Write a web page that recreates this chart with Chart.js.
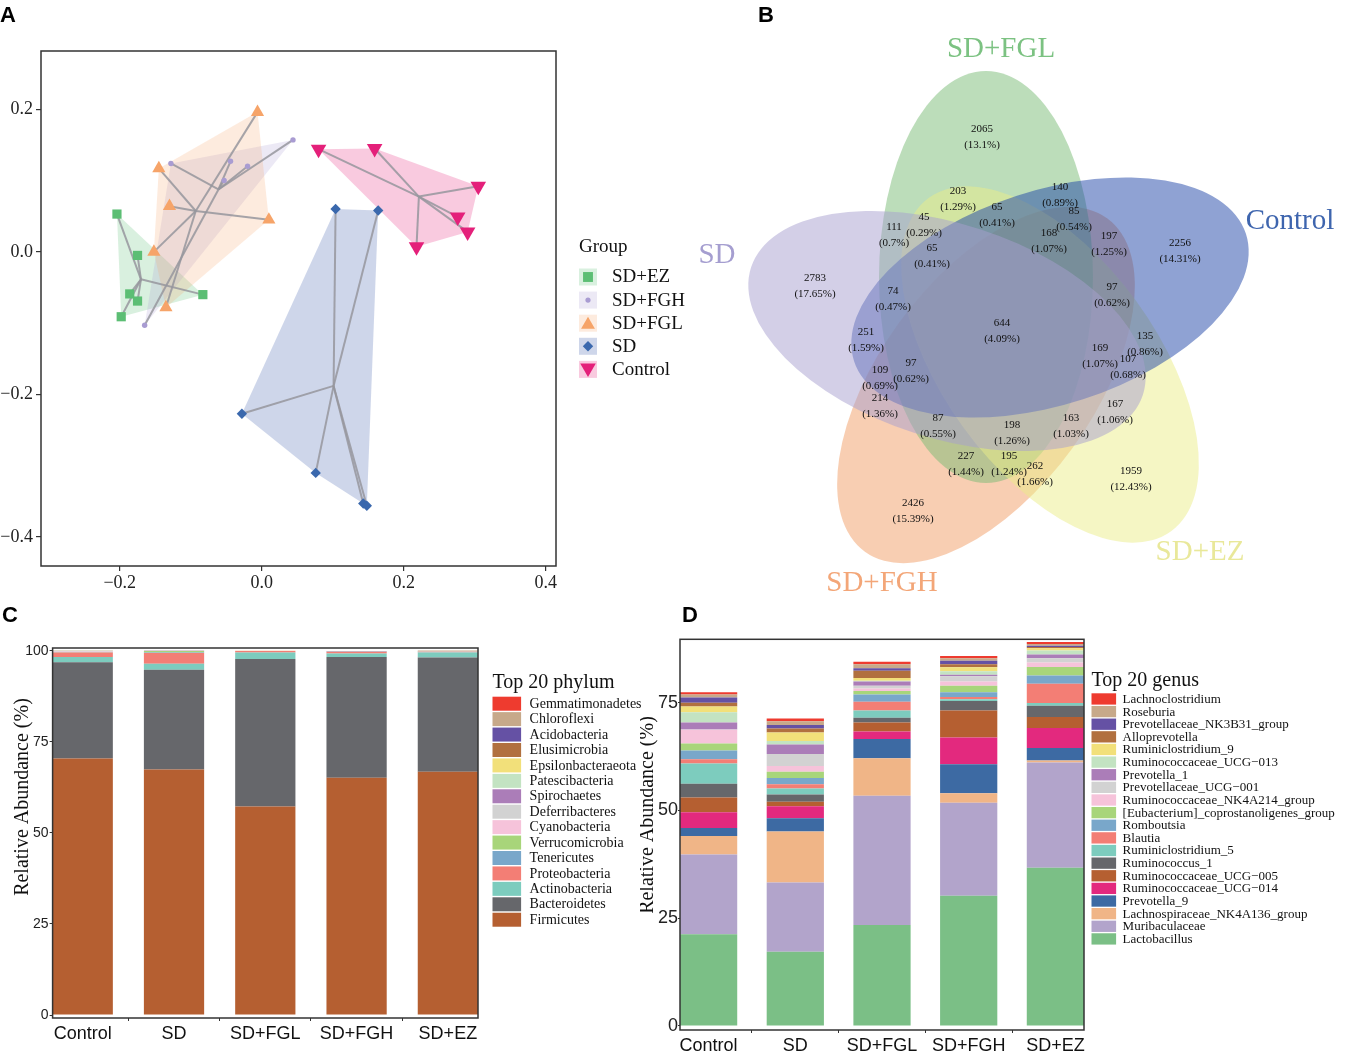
<!DOCTYPE html>
<html><head><meta charset="utf-8">
<script src="https://cdn.jsdelivr.net/npm/chart.js"></script>
<style>
html,body{margin:0;padding:0;background:#fff;}
#wrap{position:relative;width:1358px;height:1052px;overflow:hidden;background:#fff;}
canvas{position:absolute;}
.pl{position:absolute;font:bold 22px "Liberation Sans",Arial,sans-serif;line-height:1;color:#000;}
</style></head><body>
<div id="wrap">
<canvas id="cA" style="left:0;top:0;width:700px;height:610px"></canvas>
<canvas id="cB" style="left:690px;top:0;width:668px;height:610px"></canvas>
<canvas id="cC" style="left:0;top:625px;width:680px;height:427px"></canvas>
<canvas id="cD" style="left:640px;top:625px;width:718px;height:427px"></canvas>
<div class="pl" style="left:0px;top:4px">A</div>
<div class="pl" style="left:758px;top:4px">B</div>
<div class="pl" style="left:2px;top:604px">C</div>
<div class="pl" style="left:682px;top:604px">D</div>
</div>
<script>
// ================= DATA =================
// Panel A: PCoA coordinates per group [x, y]
const groupNames = ['SD+EZ','SD+FGH','SD+FGL','SD','Control'];
const ptsSDEZ   = [[-0.204,0.053],[-0.175,-0.005],[-0.186,-0.059],[-0.175,-0.069],[-0.198,-0.091],[-0.083,-0.060]];
const ptsSDFGH  = [[-0.128,0.124],[-0.044,0.127],[-0.020,0.120],[-0.053,0.100],[0.044,0.157],[-0.165,-0.103]];
const ptsSDFGL  = [[-0.006,0.196],[-0.145,0.117],[-0.130,0.064],[0.010,0.045],[-0.152,0.000],[-0.135,-0.078]];
const ptsSD     = [[0.104,0.060],[0.164,0.058],[-0.028,-0.227],[0.076,-0.310],[0.143,-0.353],[0.148,-0.356]];
const ptsControl= [[0.080,0.144],[0.159,0.145],[0.305,0.092],[0.276,0.049],[0.290,0.028],[0.218,0.007]];
const pcoaTicksX = [-0.2, 0, 0.2, 0.4];
const pcoaTicksY = [-0.4, -0.2, 0, 0.2];

// Panel B: Venn
const vennSets = ['SD','SD+FGL','Control','SD+EZ','SD+FGH'];
const vennCounts = [2065,203,140,65,45,111,85,168,197,65,2256,2783,74,97,644,251,135,169,107,97,109,214,167,87,163,198,227,195,262,1959,2426];
const vennPercents = ['13.1%','1.29%','0.89%','0.41%','0.29%','0.7%','0.54%','1.07%','1.25%','0.41%','14.31%','17.65%','0.47%','0.62%','4.09%','1.59%','0.86%','1.07%','0.68%','0.62%','0.69%','1.36%','1.06%','0.55%','1.03%','1.26%','1.44%','1.24%','1.66%','12.43%','15.39%'];

// Panel C: phylum (stack order bottom -> top)
const barCategories = ['Control','SD','SD+FGL','SD+FGH','SD+EZ'];
const phylumNames = ['Firmicutes','Bacteroidetes','Actinobacteria','Proteobacteria','Tenericutes','Verrucomicrobia','Cyanobacteria','Deferribacteres','Spirochaetes','Patescibacteria','Epsilonbacteraeota','Elusimicrobia','Acidobacteria','Chloroflexi','Gemmatimonadetes'];
const phylumValues = [
  [70.4, 67.4, 57.2, 65.1, 66.8],
  [26.4, 27.4, 40.5, 33.2, 31.3],
  [1.5, 1.6, 1.8, 0.9, 1.4],
  [1.2, 3.0, 0.4, 0.5, 0.1],
  [0.10, 0.10, 0.03, 0.05, 0.05],
  [0.05, 0.40, 0.02, 0.02, 0.02],
  [0.08, 0.03, 0.02, 0.02, 0.04],
  [0.12, 0.02, 0.02, 0.03, 0.04],
  [0.10, 0.02, 0.01, 0.02, 0.03],
  [0.04, 0.01, 0.01, 0.02, 0.02],
  [0.02, 0.01, 0.01, 0.01, 0.01],
  [0.02, 0.01, 0.01, 0.01, 0.08],
  [0.01, 0.01, 0.01, 0.01, 0.01],
  [0.01, 0.01, 0.01, 0.01, 0.12],
  [0.01, 0.01, 0.01, 0.01, 0.01]
];
const abundanceTicksC = [0, 25, 50, 75, 100];

// Panel D: genus (stack order bottom -> top)
const genusNames = ['Lactobacillus','Muribaculaceae','Lachnospiraceae_NK4A136_group','Prevotella_9','Ruminococcaceae_UCG\u2212014','Ruminococcaceae_UCG\u2212005','Ruminococcus_1','Ruminiclostridium_5','Blautia','Romboutsia','[Eubacterium]_coprostanoligenes_group','Ruminococcaceae_NK4A214_group','Prevotellaceae_UCG\u2212001','Prevotella_1','Ruminococcaceae_UCG\u2212013','Ruminiclostridium_9','Alloprevotella','Prevotellaceae_NK3B31_group','Roseburia','Lachnoclostridium'];
const genusValues = [
  [21.3, 17.2, 23.4, 30.2, 36.7],
  [18.5, 16.1, 30.0, 21.6, 24.4],
  [4.3, 11.8, 8.7, 2.2, 0.5],
  [1.8, 3.1, 4.5, 6.7, 2.9],
  [3.7, 2.8, 1.7, 6.2, 4.6],
  [3.4, 1.0, 2.1, 6.3, 2.6],
  [3.2, 1.7, 1.1, 2.2, 2.6],
  [4.7, 1.4, 1.7, 0.4, 0.6],
  [1.0, 1.0, 2.0, 0.5, 4.5],
  [2.0, 1.4, 1.7, 1.1, 1.9],
  [1.6, 1.5, 0.8, 1.5, 2.0],
  [3.2, 1.3, 0.6, 1.0, 1.0],
  [0.1, 2.8, 0.6, 1.2, 1.0],
  [1.6, 2.2, 1.0, 0.4, 0.9],
  [2.4, 0.8, 0.2, 0.8, 0.9],
  [1.3, 2.0, 0.6, 0.9, 0.5],
  [0.9, 0.9, 1.7, 0.7, 0.3],
  [1.2, 0.8, 0.6, 0.8, 0.3],
  [0.7, 0.9, 0.9, 0.6, 0.4],
  [0.5, 0.6, 0.6, 0.5, 0.5]
];
const abundanceTicksD = [0, 25, 50, 75];

// ================= STYLE / LAYOUT =================
const SERIF = '"Liberation Serif","Times New Roman",serif';
const SANS = '"Liberation Sans",Arial,sans-serif';
Chart.defaults.font.family = SANS;
Chart.defaults.color = '#222';
Chart.defaults.animation = false;

const groupStyle = [
  {color:'#5CBE74', fill:'rgba(92,190,116,0.23)', ps:'rect', r:6.5, rot:0},
  {color:'#A99CD2', fill:'rgba(169,156,210,0.22)', ps:'circle', r:2.7, rot:0},
  {color:'#F6A469', fill:'rgba(246,164,105,0.22)', ps:'triangle', r:7.6, rot:0},
  {color:'#3A68AD', fill:'rgba(58,90,170,0.25)', ps:'rectRot', r:5.2, rot:0},
  {color:'#E4207A', fill:'rgba(228,32,122,0.24)', ps:'triangle', r:9, rot:180}
];
const phylumColors = ['#B55F31','#66676B','#7DCCBE','#F37E75','#79A7CA','#A8D57A','#F6C3DA','#D2D2D2','#AB7DB8','#C3E3C2','#F2E07A','#B1703F','#6551A4','#C7A98A','#EE3B2F'];
const genusColors = ['#7BBF86','#B2A4CB','#F0B587','#3D6AA3','#E3297E','#B55F31','#66676B','#7DCCBE','#F37E75','#79A7CA','#A8D57A','#F6C3DA','#D2D2D2','#AB7DB8','#C3E3C2','#F2E07A','#B1703F','#6551A4','#C7A98A','#EE3B2F'];

const vennLabelX = [982,958,1060,997,924,894,1074,1049,1109,932,1180,815,893,1112,1002,866,1145,1100,1128,911,880,880,1115,938,1071,1012,966,1009,1035,1131,913];
const vennLabelY = [129,191,187,207,217,227,211,233,236,248,243,278,291,287,323,332,336,348,359,363,370,398,404,418,418,425,456,456,466,471,503];
const vennEllipse = { // centre x, centre y, tilt (deg), semi-axes
  cx:[947,986,1050,1050,986], cy:[331,277,297.5,364.5,385], tilt:[18,90,-18,54,126], a:206, b:107
};
const vennDrawOrder = [4,1,3,2,0];
const vennFill = ['rgba(167,159,207,0.5)','rgba(121,187,117,0.5)','rgba(31,69,167,0.5)','rgba(235,237,137,0.5)','rgba(241,157,101,0.5)'];
const vennTextColor = ['#A59ED0','#7CC282','#3E65AE','#E9E89A','#F3A678'];
const vennSetLabelPos = [[717,255],[1001,49],[1290,221],[1200,552],[882,583]];

// ================= HELPERS =================
function hull(points){
  const p = points.slice().sort((a,b)=>a[0]-b[0]||a[1]-b[1]);
  const cross=(o,a,b)=>(a[0]-o[0])*(b[1]-o[1])-(a[1]-o[1])*(b[0]-o[0]);
  const lo=[],up=[];
  for(const q of p){while(lo.length>=2&&cross(lo[lo.length-2],lo[lo.length-1],q)<=0)lo.pop();lo.push(q);}
  for(let i=p.length-1;i>=0;i--){const q=p[i];while(up.length>=2&&cross(up[up.length-2],up[up.length-1],q)<=0)up.pop();up.push(q);}
  up.pop();lo.pop();return lo.concat(up);
}
function drawSym(ctx, st, x, y, r){
  ctx.beginPath();
  if(st.ps==='rect'){const s=r*Math.SQRT1_2;ctx.rect(x-s,y-s,2*s,2*s);}
  else if(st.ps==='circle'){ctx.arc(x,y,r,0,Math.PI*2);}
  else if(st.ps==='rectRot'){ctx.moveTo(x,y-r);ctx.lineTo(x+r,y);ctx.lineTo(x,y+r);ctx.lineTo(x-r,y);ctx.closePath();}
  else {
    let rad = st.rot*Math.PI/180;
    for(let k=0;k<3;k++){const xx=x+Math.sin(rad)*r, yy=y-Math.cos(rad)*r; k?ctx.lineTo(xx,yy):ctx.moveTo(xx,yy); rad+=2*Math.PI/3;}
    ctx.closePath();
  }
  ctx.fillStyle=st.color; ctx.fill();
}
const boxPlugin = {id:'box', afterDraw(chart){const a=chart.chartArea,c=chart.ctx;c.save();c.strokeStyle='#333';c.lineWidth=1.5;c.strokeRect(a.left,a.top,a.right-a.left,a.bottom-a.top);c.restore();}};
function yTitlePlugin(text, x, y, size){
  return {id:'ytitle', afterDraw(chart){const c=chart.ctx;c.save();c.translate(x,y);c.rotate(-Math.PI/2);c.font=size+'px '+SERIF;c.fillStyle='#111';c.textAlign='center';c.textBaseline='middle';c.fillText(text,0,0);c.restore();}};
}
function legendPlugin(cfg){
  return {id:'lg', afterDraw(chart){
    const c=chart.ctx;c.save();c.textAlign='left';c.textBaseline='middle';
    c.fillStyle='#111';c.font=cfg.titleSize+'px '+SERIF;c.fillText(cfg.title,cfg.x,cfg.titleY);
    c.font=cfg.size+'px '+SERIF;
    cfg.names.forEach((n,i)=>{const y=cfg.y0+i*cfg.step;c.fillStyle=cfg.colors[i];c.fillRect(cfg.x,y,cfg.bw,cfg.bh);c.fillStyle='#111';c.fillText(n,cfg.tx,y+cfg.bh/2+0.5);});
    c.restore();
  }};
}
const fmtA = v => (Math.abs(v)<1e-9 ? '0.0' : v.toFixed(1).replace('-','\u2212'));

// ================= PANEL A =================
const groupPts = [ptsSDEZ, ptsSDFGH, ptsSDFGL, ptsSD, ptsControl];
const hullPlugin = {id:'hulls', beforeDatasetsDraw(chart){
  const c=chart.ctx, xs=chart.scales.x, ys=chart.scales.y;
  c.save();
  groupPts.forEach((pts,g)=>{
    const h=hull(pts);c.beginPath();
    h.forEach((p,i)=>{const X=xs.getPixelForValue(p[0]),Y=ys.getPixelForValue(p[1]);i?c.lineTo(X,Y):c.moveTo(X,Y);});
    c.closePath();c.fillStyle=groupStyle[g].fill;c.fill();
  });
  c.strokeStyle='rgba(150,150,158,0.85)';c.lineWidth=2;
  groupPts.forEach(pts=>{
    const mx=pts.reduce((s,p)=>s+p[0],0)/pts.length, my=pts.reduce((s,p)=>s+p[1],0)/pts.length;
    const X0=xs.getPixelForValue(mx),Y0=ys.getPixelForValue(my);
    pts.forEach(p=>{c.beginPath();c.moveTo(X0,Y0);c.lineTo(xs.getPixelForValue(p[0]),ys.getPixelForValue(p[1]));c.stroke();});
  });
  c.restore();
}};
const groupLegendPlugin = {id:'glg', afterDraw(chart){
  const c=chart.ctx;c.save();c.textAlign='left';c.textBaseline='middle';c.fillStyle='#111';
  c.font='19px '+SERIF;c.fillText('Group',579,247);
  groupNames.forEach((n,i)=>{
    const cy=277+i*23.1, st=groupStyle[i];
    c.fillStyle=st.fill;c.fillRect(579,cy-8.5,18,17);
    const r = st.ps==='circle'?2.6:(st.ps==='rect'?7:(st.ps==='rectRot'?5.2:(st.rot?9:8)));
    drawSym(c,st,588,cy+(st.ps==='triangle'?(st.rot?-1.5:1.5):0),r);
    c.fillStyle='#111';c.font='19px '+SERIF;c.fillText(n,612,cy+0.5);
  });
  c.restore();
}};
new Chart(document.getElementById('cA'),{
  type:'scatter',
  data:{datasets:groupPts.map((pts,g)=>({
    label:groupNames[g], data:pts.map(p=>({x:p[0],y:p[1]})),
    pointStyle:groupStyle[g].ps, pointRadius:groupStyle[g].r, pointRotation:groupStyle[g].rot,
    backgroundColor:groupStyle[g].color, borderWidth:0, pointHoverRadius:groupStyle[g].r
  }))},
  options:{responsive:false, events:[], layout:{padding:{left:0,top:51,right:144,bottom:0}},
    plugins:{legend:{display:false},tooltip:{enabled:false}},
    scales:{
      x:{type:'linear',min:-0.311,max:0.4145,afterFit(s){s.height=44;},
        afterBuildTicks(s){s.ticks=pcoaTicksX.map(v=>({value:v}));},
        grid:{drawOnChartArea:false,tickLength:5,color:'#333',lineWidth:1.2},border:{display:false},
        ticks:{callback:fmtA,font:{family:SERIF,size:18},color:'#222',padding:1,maxRotation:0}},
      y:{type:'linear',min:-0.4406,max:0.2817,afterFit(s){s.width=41;},
        afterBuildTicks(s){s.ticks=pcoaTicksY.map(v=>({value:v}));},
        grid:{drawOnChartArea:false,tickLength:5,color:'#333',lineWidth:1.2},border:{display:false},
        ticks:{callback:fmtA,font:{family:SERIF,size:18},color:'#222',padding:3}}
    }},
  plugins:[hullPlugin, boxPlugin, groupLegendPlugin]
});

// ================= PANEL B =================
const vennPlugin = {id:'venn',
  beforeDatasetsDraw(chart){
    const c=chart.ctx,xs=chart.scales.x,ys=chart.scales.y;c.save();
    vennDrawOrder.forEach(i=>{
      const X=xs.getPixelForValue(vennEllipse.cx[i]),Y=ys.getPixelForValue(vennEllipse.cy[i]);
      const ra=Math.abs(xs.getPixelForValue(vennEllipse.cx[i]+vennEllipse.a)-X), rb=Math.abs(xs.getPixelForValue(vennEllipse.cx[i]+vennEllipse.b)-X);
      c.beginPath();c.ellipse(X,Y,ra,rb,vennEllipse.tilt[i]*Math.PI/180,0,Math.PI*2);c.fillStyle=vennFill[i];c.fill();
    });
    c.restore();
  },
  afterDatasetsDraw(chart){
    const c=chart.ctx,xs=chart.scales.x,ys=chart.scales.y,meta=chart.getDatasetMeta(0);c.save();
    c.textAlign='center';c.textBaseline='middle';c.fillStyle='#111';c.font='11px '+SERIF;
    meta.data.forEach((pt,i)=>{c.fillText(String(vennCounts[i]),pt.x,pt.y);c.fillText('('+vennPercents[i]+')',pt.x,pt.y+16.5);});
    c.font='29px '+SERIF;
    vennSets.forEach((s,i)=>{c.fillStyle=vennTextColor[i];c.fillText(s,xs.getPixelForValue(vennSetLabelPos[i][0]),ys.getPixelForValue(vennSetLabelPos[i][1]));});
    c.restore();
  }};
new Chart(document.getElementById('cB'),{
  type:'scatter',
  data:{datasets:[{data:vennLabelX.map((x,i)=>({x:x,y:vennLabelY[i]})),pointRadius:0,pointHoverRadius:0}]},
  options:{responsive:false,events:[],layout:{padding:0},
    plugins:{legend:{display:false},tooltip:{enabled:false}},
    scales:{x:{type:'linear',min:690,max:1358,display:false},y:{type:'linear',min:0,max:610,reverse:true,display:false}}},
  plugins:[vennPlugin]
});

// ================= PANELS C & D =================
function stacked(id, names, values, colors, o){
  return new Chart(document.getElementById(id),{
    type:'bar',
    data:{datasets:names.map((n,k)=>({label:n,data:values[k].map((v,i)=>({x:i,y:v})),backgroundColor:colors[k],borderWidth:0,barPercentage:0.66,categoryPercentage:1}))},
    options:{responsive:false,events:[],layout:{padding:o.padding},
      plugins:{legend:{display:false},tooltip:{enabled:false}},
      scales:{
        x:{type:'linear',stacked:true,offset:false,min:-0.33,max:4.33,afterFit(s){s.height=o.xh;},
          afterBuildTicks(s){s.ticks=barCategories.map((c,i)=>({value:i}));},
          grid:{drawOnChartArea:false,tickLength:3,color:'#333'},border:{display:false},
          ticks:{callback:v=>barCategories[v],font:{family:SANS,size:18},color:'#111',padding:2,maxRotation:0,autoSkip:false}},
        y:{type:'linear',stacked:true,min:o.ymin,max:o.ymax,afterFit(s){s.width=o.yw;},
          afterBuildTicks(s){s.ticks=o.yticks.map(v=>({value:v}));},
          grid:{drawOnChartArea:false,tickLength:o.tl,color:'#333'},border:{display:false},
          ticks:{font:{family:SANS,size:o.tickSize},color:'#222',padding:o.tp}}
      }},
    plugins:[boxPlugin, yTitlePlugin('Relative Abundance (%)',o.titleX,o.titleY,20), legendPlugin(o.legend)]
  });
}
// Panel C (canvas at page 0,625)
stacked('cC', phylumNames, phylumValues, phylumColors, {
  padding:{left:0,top:23,right:202,bottom:0}, xh:34, yw:52.6, ymin:-0.82, ymax:100.74, yticks:abundanceTicksC, tl:3, tp:1, tickSize:14,
  titleX:23, titleY:797-625,
  legend:{title:'Top 20 phylum',titleSize:20,x:492.5,titleY:683-625,y0:696.7-625,step:15.43,bw:28.6,bh:14,tx:529.6,size:14,
    names:phylumNames.slice().reverse(), colors:phylumColors.slice().reverse()}
});
// Panel D (canvas at page 640,625)
stacked('cD', genusNames, genusValues, genusColors, {
  padding:{left:0,top:14.3,right:274,bottom:0}, xh:22, yw:40, ymin:-0.93, ymax:89.7, yticks:abundanceTicksD, tl:2, tp:0, tickSize:18,
  titleX:648-640, titleY:815-625,
  legend:{title:'Top 20 genus',titleSize:20,x:1091.5-640,titleY:681-625,y0:693.3-625,step:12.63,bw:24.6,bh:11.3,tx:1122.6-640,size:13,
    names:genusNames.slice().reverse(), colors:genusColors.slice().reverse()}
});
</script>
</body></html>
